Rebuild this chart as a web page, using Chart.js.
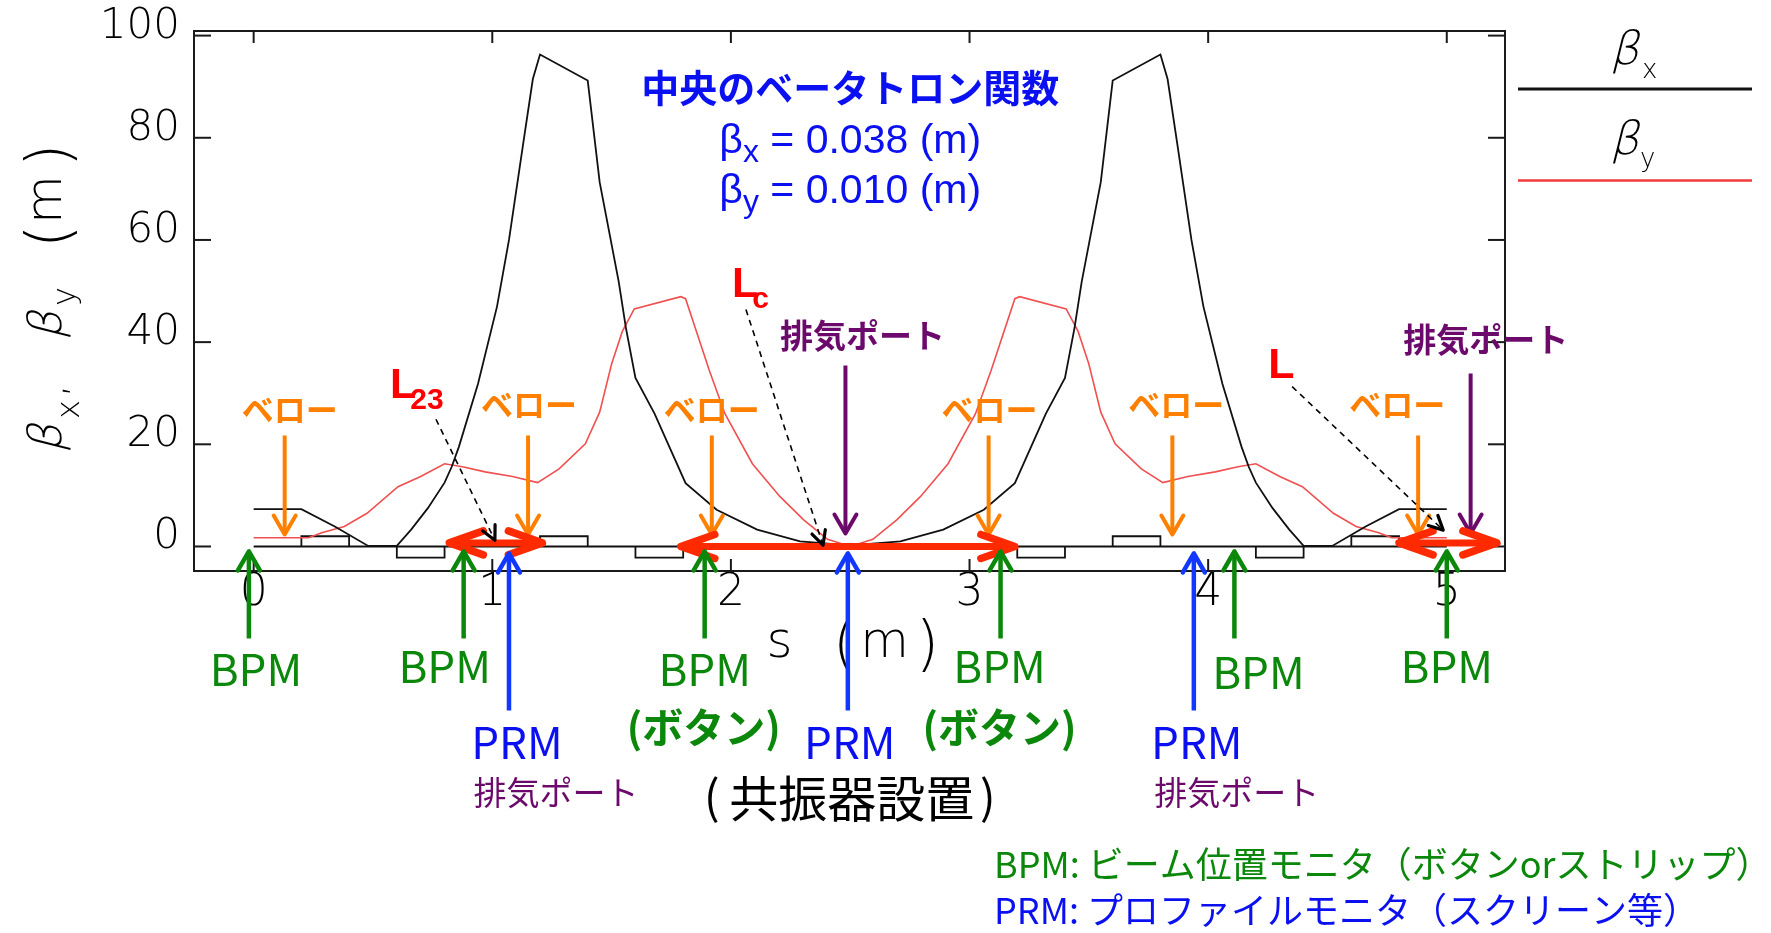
<!DOCTYPE html>
<html lang="ja">
<head>
<meta charset="utf-8">
<title>中央のベータトロン関数</title>
<script src="https://cdn.jsdelivr.net/npm/chart.js@4.4.1/dist/chart.umd.min.js"></script>
<style>
  html, body { margin: 0; padding: 0; background: #ffffff; }
  #wrap { width: 1771px; height: 933px; position: relative; }
</style>
</head>
<body>
<div id="wrap"><canvas id="beta" width="1771" height="933"></canvas></div>
<script>
// ---- Betatron functions along the cavity straight (s in m, beta in m) ----
const betaXCentre = 0.038;
const betaYCentre = 0.010;

const sBetaX = [0, 0.2, 0.34, 0.48, 0.6, 0.66, 0.73, 0.8, 0.83, 0.86, 0.94, 1.02, 1.07, 1.13, 1.17, 1.2,
  1.4, 1.45, 1.53, 1.56, 1.6, 1.68, 1.81, 1.94, 2.11, 2.29, 2.42, 2.5,
  2.58, 2.71, 2.89, 3.06, 3.19, 3.32, 3.4, 3.44, 3.47, 3.55, 3.6,
  3.8, 3.83, 3.87, 3.93, 3.98, 4.06, 4.14, 4.17, 4.2, 4.27, 4.34, 4.4, 4.52, 4.66, 4.8, 5.0];
const betaX = [7.3, 7.3, 3.9, 0.1, 0.1, 3.3, 7.5, 12.5, 15.6, 19.5, 31.8, 47, 60, 79, 91.5, 96.3,
  91.2, 71.3, 51.8, 42.8, 33, 26, 12.4, 7.2, 3.3, 1.0, 0.5, betaXCentre,
  0.5, 1.0, 3.3, 7.2, 12.4, 26, 33, 42.8, 51.8, 71.3, 91.2,
  96.3, 91.5, 79, 60, 47, 31.8, 19.5, 15.6, 12.5, 7.5, 3.3, 0.1, 0.1, 3.9, 7.3, 7.3];

const sBetaY = [0, 0.23, 0.285, 0.38, 0.475, 0.605, 0.7, 0.8, 0.875, 0.97, 1.085, 1.19, 1.28, 1.39, 1.45,
  1.5, 1.545, 1.595, 1.79, 1.81, 1.91, 1.975, 2.09, 2.205, 2.305, 2.405, 2.5,
  2.595, 2.695, 2.795, 2.91, 3.025, 3.09, 3.19, 3.21, 3.405, 3.455, 3.5,
  3.55, 3.61, 3.72, 3.81, 3.915, 4.03, 4.125, 4.2, 4.3, 4.395, 4.525, 4.62, 4.715, 4.77, 5.0];
const betaY = [1.7, 1.7, 2.7, 3.9, 6.5, 11.7, 13.7, 16.2, 15.6, 14.6, 13.7, 12.5, 15.2, 20.1, 26.3,
  35.7, 42.1, 46.5, 48.9, 48.5, 34.4, 26, 16.2, 9.8, 5.2, 1.4, betaYCentre,
  1.4, 5.2, 9.8, 16.2, 26, 34.4, 48.5, 48.9, 46.5, 42.1, 35.7,
  26.3, 20.1, 15.2, 12.5, 13.7, 14.6, 15.6, 16.2, 13.7, 11.7, 6.5, 3.9, 2.7, 1.7, 1.7];

// ---- Axis ticks ----
const xTickValues = [0, 1, 2, 3, 4, 5];
const yTickValues = [0, 20, 40, 60, 80, 100];

// ---- Magnet layout (drawn on the beta = 0 line) ----
const beamlineSpan = [0, 5];
const magnetStart  = [0.2, 0.6, 1.2, 1.6, 3.2, 3.6, 4.2, 4.6];
const magnetEnd    = [0.4, 0.8, 1.4, 1.8, 3.4, 3.8, 4.4, 4.8];
const magnetHeight = [2.0, -2.2, 2.0, -2.2, -2.2, 2.0, -2.2, 2.0];

// ---- Components along s ----
const bellowsS  = [0.13, 1.15, 1.92, 3.08, 3.85, 4.88];
const pumpTopS  = [2.48, 5.10];
const bpmS      = [-0.02, 0.88, 1.89, 3.13, 4.11, 5.0];
const bpmButton = [false, false, true, true, false, false];
const prmS      = [1.07, 2.49, 3.94];
const prmPump   = [true, false, true];

// ---- Drift lengths ----
const lengthName = ['L', 'L', 'L'];
const lengthSub  = ['23', 'c', ''];
const lengthFrom = [0.82, 1.79, 4.80];
const lengthTo   = [1.21, 3.19, 5.21];

// ---- Chart ----
const THIN = "'DejaVu Sans ExtraLight','DejaVu Sans Light','DejaVu Sans'";
const JP = "'Noto Sans CJK JP','Noto Sans CJK SC',sans-serif";
const ORANGE = '#ff8000', PURPLE = '#6c0a6c', GREEN = '#0b870b', BLUE_ARROW = '#1238ff',
      BLUE_TEXT = '#0a10f0', RED = '#ff2a00', INK = '#000000';

function toPts(xs, ys) { return xs.map((x, i) => ({ x, y: ys[i] })); }

// closed outline of each magnet, the beam line running through underneath
const layoutPts = [{ x: beamlineSpan[0], y: 0 }];
magnetStart.forEach((s0, i) => {
  const s1 = magnetEnd[i], h = magnetHeight[i];
  layoutPts.push({ x: s0, y: 0 }, { x: s0, y: h }, { x: s1, y: h }, { x: s1, y: 0 },
                 { x: s0, y: 0 }, { x: s1, y: 0 });
});
layoutPts.push({ x: beamlineSpan[1], y: 0 });

function strokeLine(ctx, x1, y1, x2, y2) {
  ctx.beginPath(); ctx.moveTo(x1, y1); ctx.lineTo(x2, y2); ctx.stroke();
}
function chevron(ctx, x, y, ang, len, half, w, color) {
  const c = Math.cos(ang), s = Math.sin(ang);
  const bx = x - c * len, by = y - s * len;
  ctx.save();
  ctx.strokeStyle = color; ctx.lineWidth = w; ctx.lineJoin = 'round'; ctx.lineCap = 'round';
  ctx.setLineDash([]);
  ctx.beginPath();
  ctx.moveTo(bx - s * half, by + c * half);
  ctx.lineTo(x, y);
  ctx.lineTo(bx + s * half, by - c * half);
  ctx.stroke();
  ctx.restore();
}
function arrow(ctx, x1, y1, x2, y2, o) {
  const ang = Math.atan2(y2 - y1, x2 - x1);
  ctx.save();
  ctx.strokeStyle = o.color; ctx.lineWidth = o.width; ctx.lineCap = 'butt';
  ctx.setLineDash(o.dash || []);
  const back = o.width / 2;
  strokeLine(ctx, x1, y1, x2 - Math.cos(ang) * back, y2 - Math.sin(ang) * back);
  ctx.restore();
  chevron(ctx, x2, y2, ang, o.len, o.half, o.headWidth || o.width, o.color);
}
function label(ctx, str, x, y, font, color, align, base) {
  ctx.font = font; ctx.fillStyle = color;
  ctx.textAlign = align || 'center'; ctx.textBaseline = base || 'middle';
  ctx.fillText(str, x, y);
}

const decor = {
  id: 'beamlineDecor',
  afterDraw(chart) {
    const ctx = chart.ctx, a = chart.chartArea;
    const X = v => chart.scales.x.getPixelForValue(v);
    const Y = v => chart.scales.y.getPixelForValue(v);
    const y0 = Y(0);
    ctx.save();

    // frame and inward ticks
    ctx.strokeStyle = '#1a1a1a'; ctx.lineWidth = 2;
    ctx.strokeRect(a.left, a.top, a.right - a.left, a.bottom - a.top);
    xTickValues.forEach(v => {
      const x = X(v);
      strokeLine(ctx, x, a.top, x, a.top + 12);
      strokeLine(ctx, x, a.bottom, x, a.bottom - 12);
    });
    yTickValues.forEach(v => {
      const y = Y(v);
      strokeLine(ctx, a.left, y, a.left + 17, y);
      strokeLine(ctx, a.right, y, a.right - 17, y);
    });

    // x-axis title  s (m)
    const cx = (a.left + a.right) / 2;
    const tf = `200 50px ${THIN}`;
    label(ctx, 's', cx - 70, 657, tf, INK, 'center', 'alphabetic');
    label(ctx, '(', cx - 5, 664, `200 60px ${THIN}`, INK, 'center', 'alphabetic');
    label(ctx, 'm', cx + 35, 657, tf, INK, 'center', 'alphabetic');
    label(ctx, ')', cx + 78, 664, `200 60px ${THIN}`, INK, 'center', 'alphabetic');

    // y-axis title  βx, βy (m)  (rotated)
    ctx.save();
    ctx.translate(61, 453);
    ctx.rotate(-Math.PI / 2);
    label(ctx, 'β', 0, 0, `italic 200 46px ${THIN}`, INK, 'left', 'alphabetic');
    label(ctx, 'x', 34, 18, `200 32px ${THIN}`, INK, 'left', 'alphabetic');
    label(ctx, ',', 56, 4, `200 40px ${THIN}`, INK, 'left', 'alphabetic');
    label(ctx, 'β', 113, 0, `italic 200 46px ${THIN}`, INK, 'left', 'alphabetic');
    label(ctx, 'y', 147, 14, `200 32px ${THIN}`, INK, 'left', 'alphabetic');
    label(ctx, '(', 205, 8, `200 60px ${THIN}`, INK, 'left', 'alphabetic');
    label(ctx, 'm', 229, 0, `200 50px ${THIN}`, INK, 'left', 'alphabetic');
    label(ctx, ')', 286, 8, `200 60px ${THIN}`, INK, 'left', 'alphabetic');
    ctx.restore();

    // legend
    label(ctx, 'β', 1610, 64, `italic 200 46px ${THIN}`, INK, 'left', 'alphabetic');
    label(ctx, 'x', 1642, 78, `200 26px ${THIN}`, INK, 'left', 'alphabetic');
    ctx.strokeStyle = '#111111'; ctx.lineWidth = 3;
    strokeLine(ctx, 1518, 89, 1752, 89);
    label(ctx, 'β', 1610, 154, `italic 200 46px ${THIN}`, INK, 'left', 'alphabetic');
    label(ctx, 'y', 1640, 167, `200 26px ${THIN}`, INK, 'left', 'alphabetic');
    ctx.strokeStyle = '#f03a3a'; ctx.lineWidth = 2.5;
    strokeLine(ctx, 1518, 180.5, 1752, 180.5);

    // centre betatron function note
    const xc = X(2.5);
    label(ctx, '中央のベータトロン関数', xc, 88, `bold 38px ${JP}`, BLUE_TEXT);
    [['x', betaXCentre, 153], ['y', betaYCentre, 203]].forEach(([sub, val, base]) => {
      const main = `41px 'Liberation Sans', Arial, sans-serif`;
      const small = `32px 'Liberation Sans', Arial, sans-serif`;
      const rest = ` = ${val.toFixed(3)} (m)`;
      ctx.font = main; const wb = ctx.measureText('β').width, wr = ctx.measureText(rest).width;
      ctx.font = small; const ws = ctx.measureText(sub).width;
      let x = xc - (wb + ws + wr) / 2;
      label(ctx, 'β', x, base, main, BLUE_TEXT, 'left', 'alphabetic'); x += wb;
      label(ctx, sub, x, base + 9, small, BLUE_TEXT, 'left', 'alphabetic'); x += ws;
      label(ctx, rest, x, base, main, BLUE_TEXT, 'left', 'alphabetic');
    });

    // bellows
    const bellowsLabelDx = [5, 1, 0, 1, 4, -21];
    const bellowsLabelDy = [-137, -142, -137, -137, -142, -142];
    bellowsS.forEach((s, i) => {
      const x = X(s);
      arrow(ctx, x, y0 - 111, x, y0 - 12, { color: ORANGE, width: 4, len: 19, half: 11 });
      label(ctx, 'ベロー', x + bellowsLabelDx[i], y0 + bellowsLabelDy[i], `bold 32px ${JP}`, ORANGE);
    });

    // pumping ports above the line
    const pumpTop = [-181, -173], pumpLabelDx = [17, 15], pumpLabelDy = [-211, -207];
    pumpTopS.forEach((s, i) => {
      const x = X(s);
      arrow(ctx, x, y0 + pumpTop[i], x, y0 - 13, { color: PURPLE, width: 4, len: 19, half: 11 });
      label(ctx, '排気ポート', x + pumpLabelDx[i], y0 + pumpLabelDy[i], `bold 33px ${JP}`, PURPLE);
    });

    // drift lengths (red double arrows)
    const lenY = [0.7, 0, 0.7];
    lengthFrom.forEach((s0, i) => {
      const xa = X(s0), xb = X(lengthTo[i]), y = Y(lenY[i]);
      ctx.save();
      ctx.strokeStyle = RED; ctx.lineWidth = 7;
      strokeLine(ctx, xa + 4, y, xb - 4, y);
      ctx.restore();
      chevron(ctx, xa, y, Math.PI, 34, 12, 7.5, RED);
      chevron(ctx, xb, y, 0, 34, 12, 7.5, RED);
    });

    // dashed pointers from the length names
    const ptrFrom = [[0.764, 24.9], [2.063, 46.4], [4.352, 31.3]];
    const ptrTo   = [[1.011, 1.2], [2.386, 0.25], [4.985, 3.2]];
    const nameDx  = [-46, -14, -24], nameDy = [-21, -12, -9];
    lengthName.forEach((nm, i) => {
      const x1 = X(ptrFrom[i][0]), y1 = Y(ptrFrom[i][1]);
      const x2 = X(ptrTo[i][0]), y2 = Y(ptrTo[i][1]);
      arrow(ctx, x1, y1, x2, y2, { color: '#000', width: 1.6, dash: [6, 5], len: 14, half: 7, headWidth: 3.2 });
      const lx = x1 + nameDx[i], ly = y1 + nameDy[i];
      const big = `bold 43px 'Liberation Sans', Arial, sans-serif`;
      const sm = `bold 30px 'Liberation Sans', Arial, sans-serif`;
      label(ctx, nm, lx, ly, big, '#ff0000', 'left', 'alphabetic');
      ctx.font = big;
      const w = ctx.measureText(nm).width;
      if (lengthSub[i]) label(ctx, lengthSub[i], lx + w - 6, ly + 11, sm, '#ff0000', 'left', 'alphabetic');
    });

    // beam position monitors
    const bpmLabelDx = [7, -19, 0, -1, 24, 0], bpmLabelDy = [123, 120, 123, 120, 126, 120];
    bpmS.forEach((s, i) => {
      const x = X(s);
      arrow(ctx, x, y0 + 92, x, y0 + 5, { color: GREEN, width: 4.5, len: 19, half: 11 });
      label(ctx, 'BPM', x + bpmLabelDx[i], y0 + bpmLabelDy[i], `44px ${JP}`, GREEN);
      if (bpmButton[i]) label(ctx, '(ボタン)', x - 1, y0 + 181, `bold 41px ${JP}`, GREEN);
    });

    // profile monitors
    const prmLabelDx = [8, 2, 3], pumpLowDx = [47, 0, 43];
    prmS.forEach((s, i) => {
      const x = X(s);
      arrow(ctx, x, y0 + 164, x, y0 + 7, { color: BLUE_ARROW, width: 4.5, len: 19, half: 11 });
      label(ctx, 'PRM', x + prmLabelDx[i], y0 + 196, `44px ${JP}`, BLUE_TEXT);
      if (prmPump[i]) label(ctx, '排気ポート', x + pumpLowDx[i], y0 + 246, `33px ${JP}`, PURPLE);
    });
    const xr = X(prmS[1]) + 4;
    label(ctx, '共振器設置', xr, y0 + 252, `49px ${JP}`, '#000');
    label(ctx, '(', xr - 140, y0 + 250, `46px ${JP}`, '#000');
    label(ctx, ')', xr + 136, y0 + 250, `46px ${JP}`, '#000');

    // key
    label(ctx, 'BPM: ビーム位置モニタ（ボタンorストリップ）', 994, 864, `36px ${JP}`, GREEN, 'left');
    label(ctx, 'PRM: プロファイルモニタ（スクリーン等）', 994, 910, `36px ${JP}`, BLUE_TEXT, 'left');

    ctx.restore();
  }
};

new Chart(document.getElementById('beta'), {
  type: 'scatter',
  data: {
    datasets: [
      { label: 'βx', data: toPts(sBetaX, betaX), showLine: true, borderColor: '#111111', borderWidth: 1.8,
        pointRadius: 0, tension: 0, fill: false },
      { label: 'βy', data: toPts(sBetaY, betaY), showLine: true, borderColor: '#f05050', borderWidth: 1.6,
        pointRadius: 0, tension: 0, fill: false },
      { label: 'magnets', data: layoutPts, showLine: true, borderColor: '#111111', borderWidth: 1.8,
        pointRadius: 0, tension: 0, fill: false, borderJoinStyle: 'miter' }
    ]
  },
  options: {
    responsive: false,
    animation: false,
    devicePixelRatio: 1,
    layout: { padding: { top: 31, right: 266, left: 0, bottom: 0 } },
    plugins: { legend: { display: false }, tooltip: { enabled: false } },
    scales: {
      x: {
        type: 'linear', min: -0.25, max: 5.244,
        afterBuildTicks: s => { s.ticks = xTickValues.map(v => ({ value: v })); },
        afterFit: s => { s.height = 362; s.paddingLeft = 0; s.paddingRight = 0; },
        grid: { display: false, drawTicks: false }, border: { display: false },
        ticks: { autoSkip: false, maxRotation: 0, padding: -4, color: INK,
                 font: { family: THIN, size: 44, weight: 200 } }
      },
      y: {
        type: 'linear', min: -4.8, max: 100.9,
        afterBuildTicks: s => { s.ticks = yTickValues.map(v => ({ value: v })); },
        afterFit: s => { s.width = 194; s.paddingTop = 0; s.paddingBottom = 0; },
        grid: { display: false, drawTicks: false }, border: { display: false },
        ticks: { autoSkip: false, padding: 14, labelOffset: -9, color: INK,
                 font: { family: THIN, size: 42, weight: 200 } }
      }
    }
  },
  plugins: [decor]
});
</script>
</body>
</html>
